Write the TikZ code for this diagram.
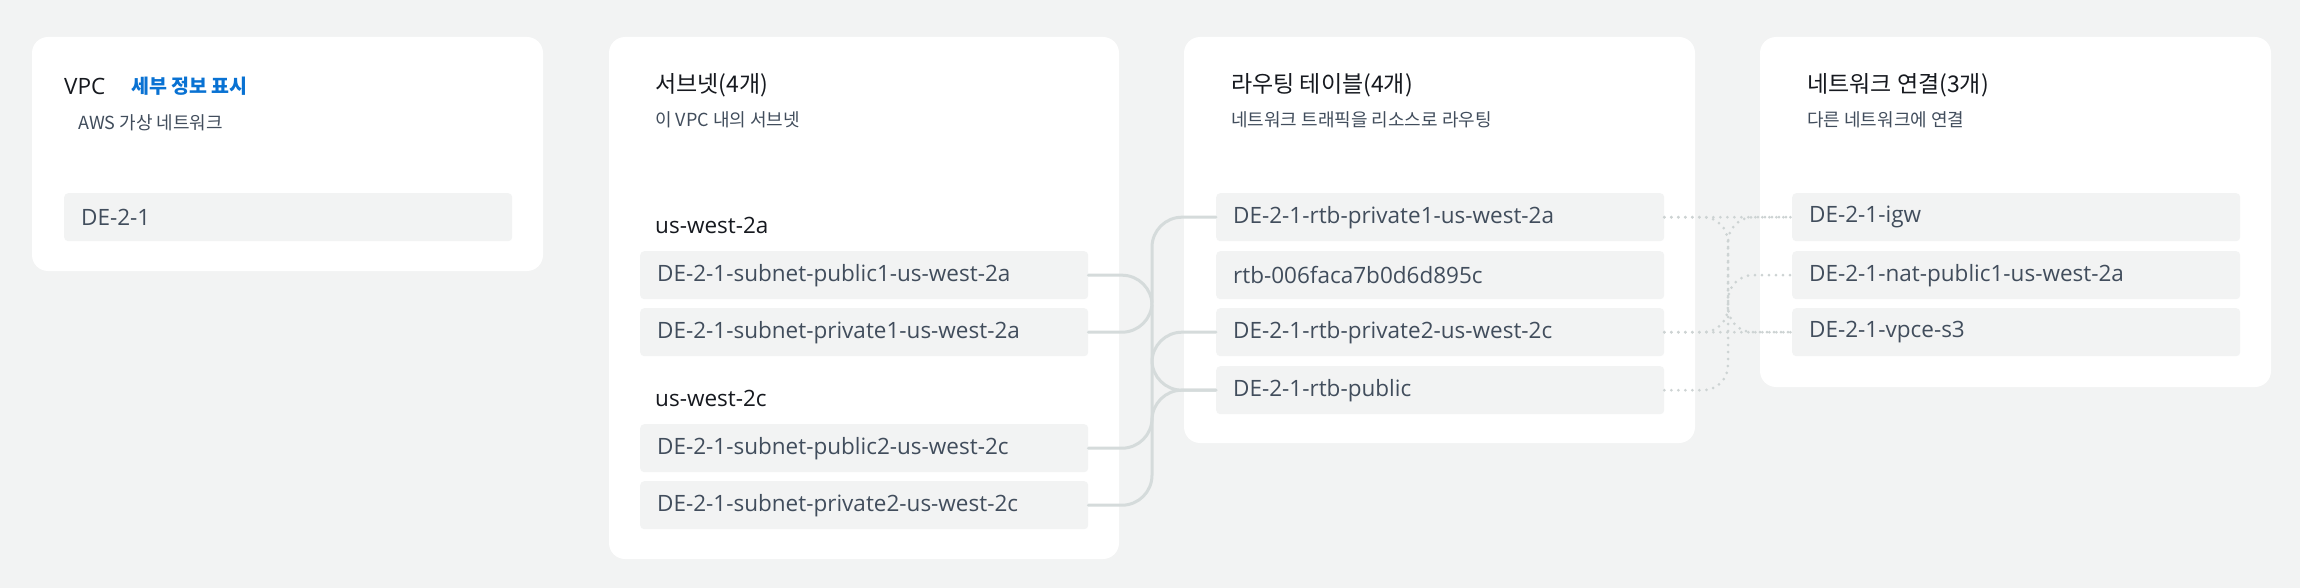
\documentclass[tikz,border=0pt]{standalone}
\usepackage{fontspec}
\setmainfont{Noto Sans CJK KR}
\newfontfamily\latin{Open Sans}
\usetikzlibrary{positioning}
\definecolor{pagebg}{HTML}{F2F3F3}
\definecolor{itembg}{HTML}{F2F3F3}
\definecolor{inktitle}{HTML}{16191F}
\definecolor{inktext}{HTML}{414D5C}
\definecolor{linkblue}{HTML}{0972D3}
\definecolor{wire}{HTML}{D5DBDB}
\definecolor{dotwire}{HTML}{CDD3D3}

\begin{document}
\begin{tikzpicture}[x=1pt,y=-1pt,line cap=round,
  card/.style={fill=white,rounded corners=16pt},
  item/.style={fill=itembg,rounded corners=4pt,anchor=north west,minimum height=48pt,
    text width=414pt,inner xsep=17pt,inner ysep=0pt,align=left,text=inktext,
    font=\latin\fontsize{22.5}{26}\selectfont},
  head/.style={anchor=west,text=inktitle,inner sep=0pt,font=\fontsize{23}{28}\selectfont},
  sub/.style={anchor=west,text=inktext,inner sep=0pt,font=\fontsize{18}{21}\selectfont},
  zone/.style={anchor=west,text=inktitle,inner sep=0pt,font=\latin\fontsize{22.5}{26}\selectfont},
  link/.style={draw=wire,line width=3pt,rounded corners=30pt},
  route/.style={draw=dotwire,line width=3pt,dash pattern=on 0pt off 7pt,rounded corners=25pt}]
\useasboundingbox[fill=pagebg] (0,0) rectangle (2300,588);

% cards
\fill[card] (32,37) rectangle (543,271);
\fill[card] (609,37) rectangle (1119,559);
\fill[card] (1184,37) rectangle (1695,443);
\fill[card] (1760,37) rectangle (2271,387);

% VPC
\node[zone] (vpctitle) at (64,86) {VPC};
\node[anchor=west,inner sep=0pt,text=linkblue,font=\fontsize{19.5}{22}\selectfont\bfseries] (vpcmore) at (131,86) {세부 정보 표시};
\node[sub] (vpcsub) at (78,123) {AWS 가상 네트워크};
\node[item] (vpc) at (64,193) {DE-2-1};

% subnets
\node[head] (subtitle) at (655,85) {서브넷(4개)};
\node[sub] (subsub) at (655,120) {이 VPC 내의 서브넷};
\node[zone] (za) at (655,225) {us-west-2a};
\node[item] (sub1) at (640,251) {DE-2-1-subnet-public1-us-west-2a};
\node[item] (sub2) at (640,308) {DE-2-1-subnet-private1-us-west-2a};
\node[zone] (zc) at (655,398) {us-west-2c};
\node[item] (sub3) at (640,424) {DE-2-1-subnet-public2-us-west-2c};
\node[item] (sub4) at (640,481) {DE-2-1-subnet-private2-us-west-2c};

% route tables
\node[head] (rttitle) at (1231,85) {라우팅 테이블(4개)};
\node[sub] (rtsub) at (1231,120) {네트워크 트래픽을 리소스로 라우팅};
\node[item] (rt1) at (1216,193) {DE-2-1-rtb-private1-us-west-2a};
\node[item] (rt2) at (1216,251) {rtb-006faca7b0d6d895c};
\node[item] (rt3) at (1216,308) {DE-2-1-rtb-private2-us-west-2c};
\node[item] (rt4) at (1216,366) {DE-2-1-rtb-public};

% connections
\node[head] (nettitle) at (1807,85) {네트워크 연결(3개)};
\node[sub] (netsub) at (1807,120) {다른 네트워크에 연결};
\node[item] (igw) at (1792,193) {DE-2-1-igw};
\node[item] (nat) at (1792,251) {DE-2-1-nat-public1-us-west-2a};
\node[item] (vpce) at (1792,308) {DE-2-1-vpce-s3};

\coordinate (bus) at (1152,0);
\coordinate (gw) at (1728,0);

% subnet -> route table
\draw[link] (sub1.east) -| (bus |- rt4.west) -- (rt4.west);
\draw[link] (sub2.east) -| (bus |- rt1.west) -- (rt1.west);
\draw[link] (sub3.east) -| (bus |- rt4.west) -- (rt4.west);
\draw[link] (sub4.east) -| (bus |- rt3.west) -- (rt3.west);

% route table -> gateway
\draw[route] (rt1.east) -- (igw.west);
\draw[route] (rt3.east) -- (vpce.west);
\draw[route] (rt1.east) -| (gw |- vpce.west) -- (vpce.west);
\draw[route] (rt3.east) -| (gw |- nat.west) -- (nat.west);
\draw[route] (rt4.east) -| (gw |- igw.west) -- (igw.west);
\end{tikzpicture}
\end{document}
